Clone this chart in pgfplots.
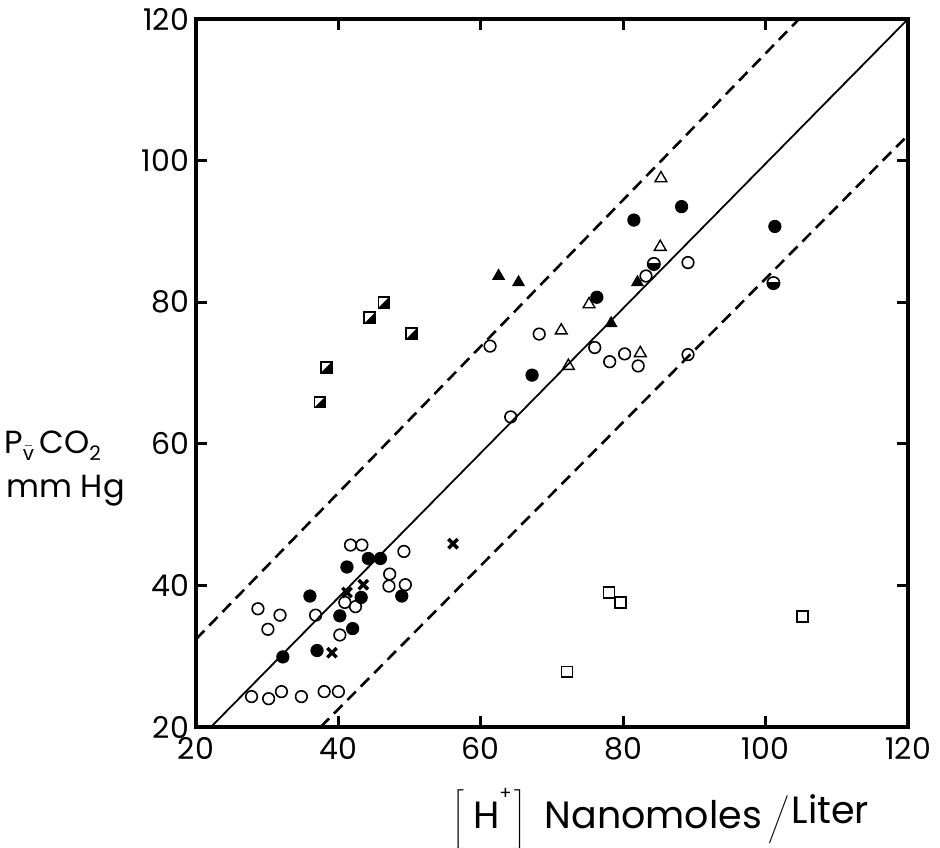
\documentclass[border=0pt]{standalone}
\usepackage{fontspec}
\setmainfont{Poppins}
\usepackage{pgfplots}
\pgfplotsset{compat=1.18}
\usetikzlibrary{plotmarks}

% square with lower-right half filled
\pgfdeclareplotmark{hsq}{%
  \pgfpathmoveto{\pgfqpoint{-\pgfplotmarksize}{-\pgfplotmarksize}}%
  \pgfpathlineto{\pgfqpoint{\pgfplotmarksize}{-\pgfplotmarksize}}%
  \pgfpathlineto{\pgfqpoint{\pgfplotmarksize}{\pgfplotmarksize}}%
  \pgfpathclose
  \pgfusepathqfill
  \pgfpathrectangle{\pgfqpoint{-\pgfplotmarksize}{-\pgfplotmarksize}}{\pgfqpoint{2\pgfplotmarksize}{2\pgfplotmarksize}}%
  \pgfusepathqstroke
}
% circle with lower half filled
\pgfdeclareplotmark{hcirc}{%
  \pgfpathmoveto{\pgfqpoint{-\pgfplotmarksize}{0.15\pgfplotmarksize}}%
  \pgfpatharc{172}{368}{\pgfplotmarksize}%
  \pgfpathclose
  \pgfusepathqfill
  \pgfpathcircle{\pgfpointorigin}{\pgfplotmarksize}%
  \pgfusepathqstroke
}

\begin{document}
\begin{tikzpicture}
\path[use as bounding box] (-98pt,-60pt) rectangle (372pt,363.5pt);
\begin{axis}[
  at={(0pt,0pt)}, anchor=south west,
  scale only axis, width=356pt, height=354pt,
  xmin=20, xmax=120, ymin=20, ymax=120,
  xtick={20,40,60,80,100,120}, ytick={20,40,60,80,100,120},
  tick align=inside, major tick length=5.5pt,
  every tick/.style={black, line width=1.4pt},
  axis line style={line width=2pt},
  tick label style={font=\fontsize{15}{15}\selectfont},
  xticklabel style={yshift=-1.5pt},
  /pgf/number format/assume math mode=true,
  clip=false,
]
% regression line and limits
\addplot[black, line width=0.9pt] coordinates {(22.1,20) (120,120)};
\addplot[black, line width=1.3pt, dash pattern=on 6pt off 3.5pt] coordinates {(20,32.4) (104.7,120)};
\addplot[black, line width=1.3pt, dash pattern=on 6pt off 3.5pt] coordinates {(37.5,20) (120,103.6)};

% open circles
\addplot[only marks, mark=o, mark size=2.9pt, mark options={black, line width=0.8pt, fill=white}] coordinates {
(28.7,36.7) (31.8,35.8) (36.8,35.8) (30.1,33.8) (40.2,33.0) (40.9,37.6) (42.4,37.0)
(41.7,45.7) (43.3,45.7) (49.2,44.8) (47.2,41.6) (49.4,40.1) (47.1,39.9)
(27.8,24.3) (30.2,24.0) (32.0,25.0) (34.8,24.3) (38.0,25.0) (40.0,25.0)
(64.2,63.8) (61.3,73.8) (68.2,75.5) (76.0,73.6) (78.1,71.6) (80.2,72.7) (82.1,71.0)
(89.1,72.6) (83.2,83.7) (89.1,85.6)};

% filled circles
\addplot[only marks, mark=*, mark size=3.1pt, mark options={black, fill=black}] coordinates {
(32.2,29.9) (37.0,30.8) (40.2,35.7) (42.0,33.9) (36.0,38.5) (43.2,38.3) (48.9,38.5)
(41.2,42.6) (44.2,43.8) (45.9,43.8) (67.2,69.7) (76.3,80.7) (81.5,91.6) (88.2,93.5) (101.3,90.7)};

% half-filled circles
\addplot[only marks, mark=hcirc, mark size=3.1pt, mark options={black, fill=black, line width=0.8pt}] coordinates {
(84.3,85.4) (101.1,82.7)};

% crosses
\addplot[only marks, mark=x, mark size=3.3pt, mark options={black, line width=1.7pt}] coordinates {
(39.1,30.5) (41.2,39.0) (43.5,40.1) (56.1,45.9)};

% open triangles
\addplot[only marks, mark=triangle, mark size=3.4pt, mark options={black, line width=0.7pt}] coordinates {
(85.3,97.5) (85.2,87.8) (75.2,79.7) (71.3,76.0) (72.3,71.0) (82.4,72.8)};

% filled triangles
\addplot[only marks, mark=triangle*, mark size=3.4pt, mark options={black, fill=black}] coordinates {
(62.5,83.7) (65.3,82.8) (82.0,82.8) (78.3,77.0)};

% half-filled squares
\addplot[only marks, mark=hsq, mark size=2.7pt, mark options={black, fill=black, line width=0.9pt}] coordinates {
(46.4,80.0) (44.4,77.8) (50.3,75.6) (38.3,70.8) (37.4,65.9)};

% open squares
\addplot[only marks, mark=square, mark size=2.7pt, mark options={black, line width=0.8pt}] coordinates {
(78.0,39.0) (79.6,37.6) (105.2,35.6) (72.1,27.8)};

% y label
\node[anchor=west, inner sep=0pt, font=\fontsize{16}{16}\selectfont] at (rel axis cs:0,0.398) [xshift=-96pt]
  {P\raisebox{-0.4ex}{\fontsize{10}{10}\selectfont$\bar{\hbox{v}}$}\,CO\raisebox{-0.4ex}{\fontsize{10}{10}\selectfont 2}};
\node[anchor=west, inner sep=0pt, font=\fontsize{16}{16}\selectfont] at (rel axis cs:0,0.334) [xshift=-95pt]
  {mm Hg};

% x label
\node[anchor=west, inner sep=0pt, font=\fontsize{19}{19}\selectfont] at (rel axis cs:0.36,0) [yshift=-46pt]
  {$\left[\vrule height 19pt depth 8pt width 0pt\right.$\,H\raisebox{0.75em}{\fontsize{9}{9}\selectfont +}$\left.\vrule height 19pt depth 8pt width 0pt\right]$\hspace{0.5em}Nanomoles\,$\left/\vrule height 17pt depth 7pt width 0pt\right.$\raisebox{0.12em}{Liter}};
\end{axis}
\end{tikzpicture}
\end{document}
